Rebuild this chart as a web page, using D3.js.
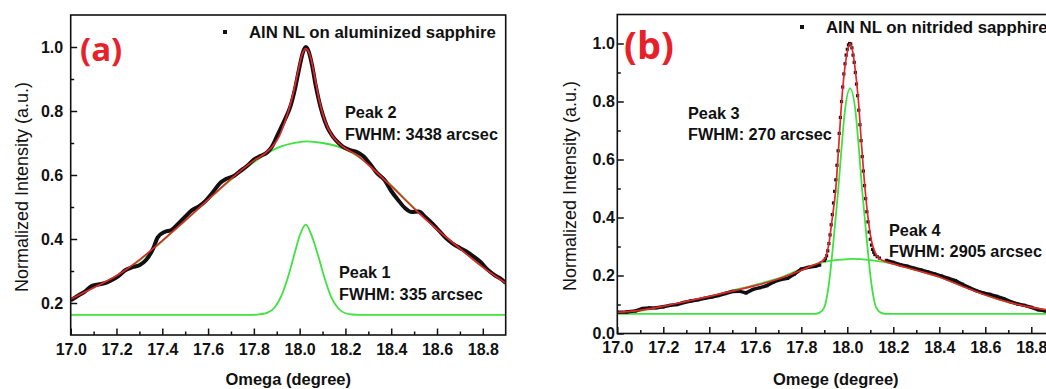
<!DOCTYPE html>
<html>
<head>
<meta charset="utf-8">
<script src="https://cdn.jsdelivr.net/npm/d3@7"></script>
<style>
  body { margin: 0; background: #fff; }
  svg { display: block; font-family: "Liberation Sans", Arial, sans-serif; }
</style>
</head>
<body>
<svg id="chart" width="1046" height="389"></svg>
<script>
// tick values shared by both panels
const xTicks = [17.0, 17.2, 17.4, 17.6, 17.8, 18.0, 18.2, 18.4, 18.6, 18.8];
const xMinor = [17.1, 17.3, 17.5, 17.7, 17.9, 18.1, 18.3, 18.5, 18.7];
const yTicksA = [0.2, 0.4, 0.6, 0.8, 1.0];
const yMinorA = [0.3, 0.5, 0.7, 0.9];
const yTicksB = [0.0, 0.2, 0.4, 0.6, 0.8, 1.0];
const yMinorB = [0.1, 0.3, 0.5, 0.7, 0.9];

// panel (a): AlN NL on aluminized sapphire  [omega, intensity]
const measuredA = [
  [17.00,0.208],[17.03,0.222],[17.06,0.235],[17.09,0.252],[17.12,0.258],[17.15,0.262],
  [17.18,0.272],[17.21,0.285],[17.24,0.303],[17.27,0.312],[17.30,0.318],[17.33,0.335],
  [17.36,0.37],[17.38,0.405],[17.41,0.422],[17.44,0.428],[17.47,0.448],[17.50,0.47],
  [17.53,0.49],[17.56,0.502],[17.59,0.52],[17.62,0.545],[17.65,0.573],[17.68,0.588],
  [17.71,0.596],[17.74,0.612],[17.77,0.628],[17.80,0.648],[17.83,0.66],[17.86,0.672],
  [17.88,0.69],[17.90,0.72],[17.92,0.75],[17.94,0.78],[17.96,0.815],[17.98,0.87],
  [18.00,0.94],[18.015,0.985],[18.027,1.0],[18.04,0.985],[18.055,0.94],[18.07,0.88],
  [18.085,0.83],[18.10,0.79],[18.12,0.75],[18.145,0.72],[18.17,0.70],[18.19,0.688],
  [18.22,0.678],[18.25,0.672],[18.28,0.658],[18.31,0.632],[18.34,0.604],[18.37,0.585],
  [18.40,0.55],[18.43,0.522],[18.46,0.497],[18.49,0.484],[18.52,0.486],[18.55,0.468],
  [18.58,0.448],[18.61,0.425],[18.64,0.402],[18.67,0.385],[18.70,0.372],[18.73,0.36],
  [18.76,0.345],[18.79,0.328],[18.82,0.305],[18.85,0.288],[18.88,0.275],[18.90,0.262]
];
const fitA = [
  [17.0,0.212],[17.1,0.248],[17.2,0.285],[17.3,0.335],[17.4,0.395],[17.5,0.458],
  [17.6,0.523],[17.7,0.588],[17.8,0.645],[17.85,0.668],[17.88,0.688],[17.91,0.72],
  [17.94,0.775],[17.97,0.85],[17.99,0.915],[18.01,0.975],[18.027,0.995],[18.045,0.975],
  [18.065,0.91],[18.085,0.835],[18.11,0.77],[18.14,0.725],[18.17,0.70],[18.20,0.683],
  [18.25,0.662],[18.30,0.632],[18.40,0.565],[18.50,0.495],[18.60,0.43],[18.70,0.37],
  [18.80,0.312],[18.90,0.262]
];
const peak1A = [
  [17.00,0.163],[17.80,0.163],[17.83,0.165],[17.86,0.170],[17.89,0.185],[17.92,0.222],
  [17.95,0.283],[17.98,0.36],[18.00,0.41],[18.027,0.445],[18.05,0.415],[18.08,0.35],
  [18.11,0.275],[18.14,0.215],[18.17,0.182],[18.20,0.168],[18.23,0.164],[18.26,0.163],
  [18.90,0.163]
];
const peak2A = [
  [17.0,0.213],[17.1,0.248],[17.2,0.285],[17.3,0.333],[17.4,0.393],[17.5,0.457],
  [17.6,0.522],[17.7,0.585],[17.8,0.64],[17.9,0.684],[18.0,0.703],[18.03,0.705],
  [18.1,0.70],[18.2,0.68],[18.3,0.635],[18.4,0.568],[18.5,0.497],[18.6,0.43],
  [18.7,0.37],[18.8,0.312],[18.9,0.262]
];

// panel (b): AlN NL on nitrided sapphire
const measuredB = [
  [17.00,0.073],[17.04,0.074],[17.08,0.078],[17.11,0.086],[17.14,0.088],[17.17,0.089],
  [17.20,0.092],[17.23,0.097],[17.26,0.10],[17.29,0.107],[17.32,0.112],[17.35,0.116],
  [17.38,0.121],[17.41,0.126],[17.44,0.131],[17.47,0.138],[17.50,0.145],[17.53,0.146],
  [17.56,0.14],[17.59,0.152],[17.62,0.158],[17.65,0.165],[17.68,0.178],[17.71,0.186],
  [17.74,0.19],[17.77,0.205],[17.80,0.222],[17.83,0.228],[17.86,0.232],[17.88,0.236],
  [17.900,0.252],[17.905,0.258],[17.910,0.268],[17.915,0.285],[17.920,0.31],[17.925,0.34],
  [17.930,0.375],[17.935,0.41],[17.940,0.45],[17.945,0.49],[17.950,0.53],[17.955,0.58],
  [17.960,0.63],[17.965,0.69],[17.970,0.745],[17.975,0.80],[17.980,0.85],[17.985,0.895],
  [17.990,0.93],[17.995,0.96],[18.000,0.98],[18.005,0.995],[18.010,1.0],[18.015,0.998],
  [18.020,0.985],[18.025,0.96],[18.030,0.935],[18.035,0.90],[18.040,0.86],[18.045,0.82],
  [18.050,0.77],[18.055,0.72],[18.060,0.665],[18.065,0.61],[18.070,0.56],[18.075,0.51],
  [18.080,0.465],[18.085,0.42],[18.090,0.385],[18.095,0.35],[18.100,0.325],[18.105,0.305],
  [18.110,0.29],[18.115,0.28],[18.120,0.272],[18.130,0.265],[18.140,0.26],
  [18.17,0.252],[18.20,0.245],[18.23,0.237],[18.26,0.232],[18.29,0.225],[18.32,0.219],
  [18.35,0.212],[18.38,0.205],[18.41,0.198],[18.44,0.19],[18.47,0.182],[18.50,0.17],
  [18.53,0.158],[18.56,0.148],[18.59,0.14],[18.62,0.135],[18.65,0.128],[18.68,0.12],
  [18.71,0.11],[18.74,0.102],[18.77,0.097],[18.80,0.09],[18.83,0.082],[18.86,0.078],
  [18.90,0.072]
];
const fitB = [
  [17.0,0.073],[17.1,0.08],[17.2,0.094],[17.3,0.111],[17.4,0.128],[17.5,0.146],
  [17.6,0.165],[17.7,0.188],[17.8,0.218],[17.85,0.235],[17.88,0.245],[17.90,0.255],
  [17.92,0.31],[17.935,0.40],[17.95,0.50],[17.963,0.65],[17.976,0.805],[17.99,0.92],
  [18.0,0.97],[18.012,1.0],[18.024,0.97],[18.033,0.92],[18.048,0.805],[18.062,0.65],
  [18.077,0.50],[18.09,0.40],[18.105,0.32],[18.12,0.28],[18.14,0.258],[18.16,0.25],
  [18.2,0.24],[18.3,0.218],[18.4,0.195],[18.5,0.163],[18.6,0.133],[18.7,0.108],
  [18.8,0.09],[18.9,0.078]
];
const peak3B = [
  [17.00,0.068],[17.86,0.068],[17.88,0.072],[17.90,0.09],[17.92,0.17],[17.94,0.32],
  [17.96,0.49],[17.975,0.64],[17.99,0.77],[18.012,0.845],[18.035,0.77],[18.05,0.64],
  [18.065,0.49],[18.085,0.32],[18.105,0.17],[18.125,0.09],[18.145,0.072],[18.165,0.068],
  [18.90,0.068]
];
const peak4B = [
  [17.0,0.072],[17.1,0.078],[17.2,0.093],[17.3,0.11],[17.4,0.128],[17.5,0.148],
  [17.6,0.168],[17.7,0.19],[17.8,0.222],[17.9,0.247],[18.0,0.256],[18.02,0.257],
  [18.1,0.253],[18.2,0.24],[18.3,0.218],[18.4,0.195],[18.5,0.163],[18.6,0.133],
  [18.7,0.107],[18.8,0.09],[18.9,0.078]
];

const RED = "#e8202a", FIT = "#e4262c", GREEN = "#3fe23f";
const svg = d3.select("#chart");

function drawPanel(p) {
  const x = d3.scaleLinear().domain([17.0, 18.9]).range(p.xr);
  const y = d3.scaleLinear().domain(p.yd).range(p.yr);
  const g = svg.append("g");

  g.append("clipPath").attr("id", p.id + "clip")
    .append("rect")
    .attr("x", p.xr[0]).attr("y", p.yr[1])
    .attr("width", p.xr[1] - p.xr[0]).attr("height", p.yr[0] - p.yr[1]);

  // x axis (ticks point inward)
  g.append("g").attr("transform", "translate(0," + p.yr[0] + ")")
    .call(d3.axisBottom(x).tickValues(xMinor).tickSize(-3.5).tickSizeOuter(0).tickFormat(""));
  g.append("g").attr("class", "tk").attr("transform", "translate(0," + p.yr[0] + ")")
    .call(d3.axisBottom(x).tickValues(xTicks).tickSize(-6.5).tickSizeOuter(0)
      .tickPadding(p.xPad).tickFormat(d3.format(".1f")));

  // y axis
  g.append("g").attr("transform", "translate(" + p.xr[0] + ",0)")
    .call(d3.axisLeft(y).tickValues(p.yMinor).tickSize(-3.5).tickSizeOuter(0).tickFormat(""));
  g.append("g").attr("class", "tk").attr("transform", "translate(" + p.xr[0] + ",0)")
    .call(d3.axisLeft(y).tickValues(p.yTicks).tickSize(-6.5).tickSizeOuter(0)
      .tickPadding(p.yPad).tickFormat(d3.format(".1f")));

  g.selectAll(".domain").remove();
  g.selectAll(".tick line").attr("stroke", "#111").attr("stroke-width", 1.5);
  g.selectAll(".tk text").attr("font-family", "Liberation Sans, Arial, sans-serif")
    .attr("font-size", 16).attr("font-weight", "bold").attr("fill", "#111");

  const line = d3.line().x(d => x(d[0])).y(d => y(d[1])).curve(d3.curveMonotoneX);
  const plot = g.append("g").attr("clip-path", "url(#" + p.id + "clip)");

  p.greens.forEach(s => {
    plot.append("path").datum(s).attr("d", line)
      .attr("fill", "none").attr("stroke", GREEN).attr("stroke-width", 1.8);
  });

  if (p.dots) {
    // sparse points on the steep peak show as separate dots
    const dense = d3.line().x(d => x(d[0])).y(d => y(d[1]))
      .defined(d => d[0] < 17.895 || d[0] > 18.145);
    plot.append("path").datum(p.measured).attr("d", dense)
      .attr("fill", "none").attr("stroke", "#111").attr("stroke-width", 3.5);
    plot.selectAll(".pt").data(p.measured).enter().append("rect")
      .attr("x", d => x(d[0]) - 1.6).attr("y", d => y(d[1]) - 1.6)
      .attr("width", 3.2).attr("height", 3.2).attr("fill", "#111");
  } else {
    plot.append("path").datum(p.measured).attr("d", line)
      .attr("fill", "none").attr("stroke", "#111").attr("stroke-width", 4);
  }

  plot.append("path").datum(p.fit).attr("d", line)
    .attr("fill", "none").attr("stroke", FIT).attr("stroke-width", 1.7);

  // frame
  g.append("rect")
    .attr("x", p.xr[0]).attr("y", p.yr[1])
    .attr("width", p.xr[1] - p.xr[0]).attr("height", p.yr[0] - p.yr[1])
    .attr("fill", "none").attr("stroke", "#111").attr("stroke-width", 1.6);

  // legend
  g.append("rect").attr("x", p.legend[0] - 2).attr("y", p.legend[1] - 2)
    .attr("width", 4).attr("height", 4).attr("fill", "#111");
  g.append("text").attr("x", p.legend[0] + 24).attr("y", p.legend[1] + 6)
    .attr("font-size", 16.8).attr("font-weight", "bold").attr("fill", "#111")
    .text(p.legendText);

  // panel letter
  g.append("text").attr("x", p.letter[0]).attr("y", p.letter[1])
    .attr("font-size", p.letter[2]).attr("font-weight", "bold").attr("fill", RED)
    .attr("font-family", "Open Sans, Liberation Sans, sans-serif")
    .text(p.letterText);

  // peak annotations
  p.notes.forEach(n => {
    g.append("text").attr("x", n[0]).attr("y", n[1])
      .attr("font-size", 16.3).attr("font-weight", "bold").attr("fill", "#111")
      .text(n[2]);
  });

  // axis titles
  g.append("text")
    .attr("transform", "translate(" + p.yTitleX + "," + ((p.yr[0] + p.yr[1]) / 2 + 12) + ") rotate(-90)")
    .attr("text-anchor", "middle").attr("dy", "0.35em")
    .attr("font-size", 18).attr("fill", "#111")
    .text("Normalized Intensity (a.u.)");
  g.append("text")
    .attr("x", (p.xr[0] + p.xr[1]) / 2).attr("y", 385)
    .attr("text-anchor", "middle")
    .attr("font-size", 16.5).attr("font-weight", "bold").attr("fill", "#111")
    .text(p.xTitle);
}

drawPanel({
  id: "a", xr: [70.7, 505.7], yd: [0.1, 1.1], yr: [335, 15],
  yTicks: yTicksA, yMinor: yMinorA, xPad: 9, yPad: 7.5,
  measured: measuredA, fit: fitA, greens: [peak1A, peak2A], dots: false,
  legend: [225, 32], legendText: "AlN NL on aluminized sapphire",
  letter: [80, 61, 33], letterText: "(a)",
  notes: [[345, 118, "Peak 2"], [345, 140, "FWHM: 3438 arcsec"],
          [339, 278, "Peak 1"], [339, 300, "FWHM: 335 arcsec"]],
  yTitleX: 22, xTitle: "Omega (degree)"
});

drawPanel({
  id: "b", xr: [617.3, 1054.3], yd: [0.0, 1.1], yr: [333.5, 14.5],
  yTicks: yTicksB, yMinor: yMinorB, xPad: 8.5, yPad: 2.5,
  measured: measuredB, fit: fitB, greens: [peak3B, peak4B], dots: true,
  legend: [802, 27], legendText: "AlN NL on nitrided sapphire",
  letter: [624, 59, 38], letterText: "(b)",
  notes: [[688, 118.5, "Peak 3"], [688, 140, "FWHM: 270 arcsec"],
          [889, 236, "Peak 4"], [889, 256.5, "FWHM: 2905 arcsec"]],
  yTitleX: 570, xTitle: "Omege (degree)"
});
</script>
</body>
</html>
